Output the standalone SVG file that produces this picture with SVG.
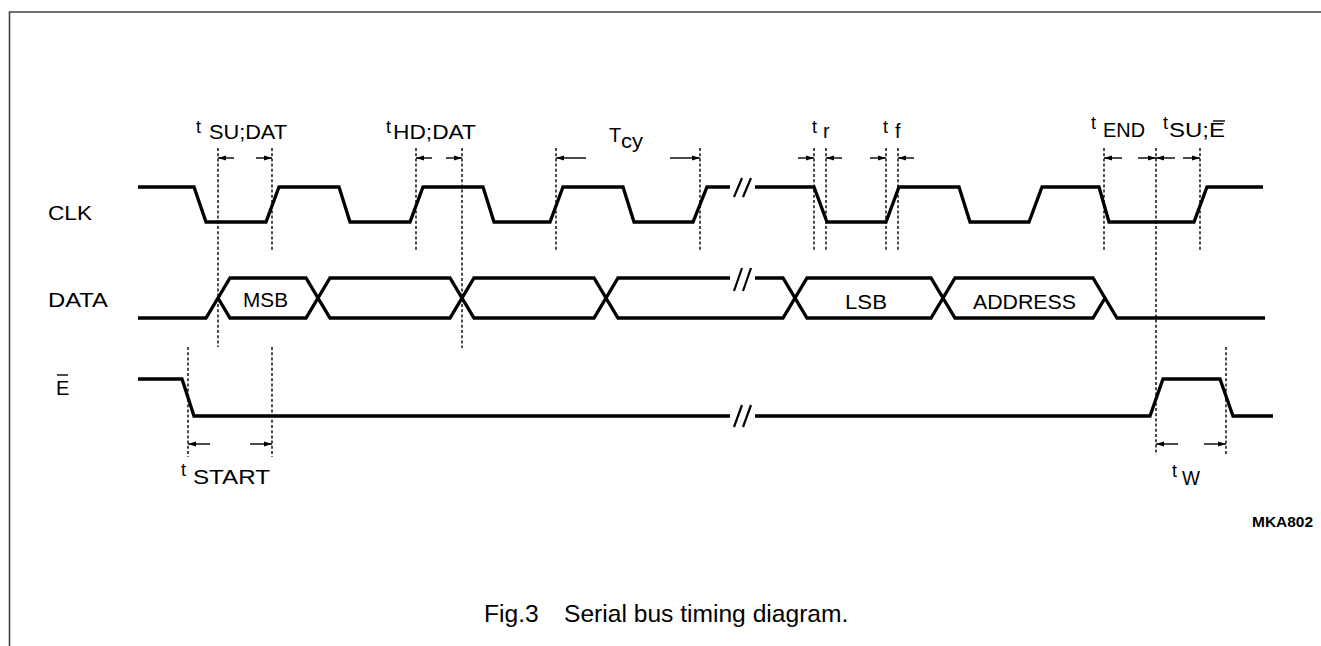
<svg xmlns="http://www.w3.org/2000/svg" width="1321" height="646" viewBox="0 0 1321 646">
<defs>
<marker id="ah" viewBox="0 0 8 6" refX="8" refY="3" markerWidth="8" markerHeight="6" markerUnits="userSpaceOnUse" orient="auto">
<path d="M0,0.5 L8,3 L0,5.5 z" fill="#000"/>
</marker>
<style>
.sig{fill:none;stroke:#000;stroke-width:3.3;stroke-linejoin:miter;stroke-linecap:butt}
.brk{fill:none;stroke:#000;stroke-width:2.2}
.dsh{fill:none;stroke:#000;stroke-width:1.4;stroke-dasharray:3 2.2}
.arr{fill:none;stroke:#000;stroke-width:1.4;marker-end:url(#ah)}
.frame{fill:none;stroke:#444;stroke-width:1.6}
text{font-family:"Liberation Sans",Arial,sans-serif;fill:#000}
.lbl{font-size:20px}
.t{font-size:18px}
.cap{font-size:24.6px}
.code{font-size:15px;font-weight:bold}
</style>
</defs>
<rect width="1321" height="646" fill="#fff"/>
<path class="frame" d="M9.5,646 V12 H1321"/>

<g id="connectors">
<g id="dashes">
<line class="dsh" x1="218" y1="148" x2="218" y2="347"/>
<line class="dsh" x1="272" y1="148" x2="272" y2="250"/>
<line class="dsh" x1="416" y1="148" x2="416" y2="250"/>
<line class="dsh" x1="462" y1="148" x2="462" y2="348"/>
<line class="dsh" x1="556" y1="148" x2="556" y2="250"/>
<line class="dsh" x1="700" y1="148" x2="700" y2="250"/>
<line class="dsh" x1="814" y1="148" x2="814" y2="250"/>
<line class="dsh" x1="826" y1="148" x2="826" y2="250"/>
<line class="dsh" x1="886" y1="148" x2="886" y2="250"/>
<line class="dsh" x1="898" y1="148" x2="898" y2="250"/>
<line class="dsh" x1="1104" y1="148" x2="1104" y2="250"/>
<line class="dsh" x1="1156" y1="148" x2="1156" y2="455"/>
<line class="dsh" x1="1200" y1="148" x2="1200" y2="250"/>
<line class="dsh" x1="188" y1="347" x2="188" y2="457"/>
<line class="dsh" x1="272" y1="347" x2="272" y2="457"/>
<line class="dsh" x1="1226" y1="347" x2="1226" y2="455"/>
</g>
<g id="arrows">
<line class="arr" x1="234" y1="158" x2="218" y2="158"/>
<line class="arr" x1="256" y1="158" x2="272" y2="158"/>
<line class="arr" x1="432" y1="158" x2="416" y2="158"/>
<line class="arr" x1="446" y1="158" x2="462" y2="158"/>
<line class="arr" x1="586" y1="158" x2="556" y2="158"/>
<line class="arr" x1="670" y1="158" x2="700" y2="158"/>
<line class="arr" x1="798" y1="158" x2="814" y2="158"/>
<line class="arr" x1="842" y1="158" x2="826" y2="158"/>
<line class="arr" x1="870" y1="158" x2="886" y2="158"/>
<line class="arr" x1="914" y1="158" x2="898" y2="158"/>
<line class="arr" x1="1122" y1="158" x2="1104" y2="158"/>
<line class="arr" x1="1138" y1="158" x2="1156" y2="158"/>
<line class="arr" x1="1175" y1="158" x2="1156" y2="158"/>
<line class="arr" x1="1183" y1="158" x2="1200" y2="158"/>
<line class="arr" x1="210" y1="444" x2="188" y2="444"/>
<line class="arr" x1="250" y1="444" x2="272" y2="444"/>
<line class="arr" x1="1178" y1="444" x2="1156" y2="444"/>
<line class="arr" x1="1204" y1="444" x2="1226" y2="444"/>
</g>
</g>

<g id="clk">
<path class="sig" d="M138,187 H194 L206,222 H266 L279,187 H339 L350,222 H410 L423,187 H483 L494,222 H550 L563,187 H623 L634,222 H693 L707,187 H730"/>
<path class="sig" d="M755,187 H814 L827,222 H886 L899,187 H959 L970,222 H1029 L1042,187 H1099 L1109,222 H1194 L1207,187 H1263"/>
<path class="brk" d="M734,197 L742,178 M743,197 L751,178"/>
<text class="lbl" x="48" y="220" textLength="44" lengthAdjust="spacingAndGlyphs">CLK</text>
</g>

<g id="data">
<path class="sig" d="M138,318 H206 L230,278 H306 L330,318 H450 L474,278 H594 L618,318 H783 L807,278 H931 L955,318 H1093 L1105,298"/>
<path class="sig" d="M218,298 L230,318 H306 L330,278 H450 L474,318 H594 L618,278 H730 M755,278 H783 L807,318 H931 L955,278 H1093 L1117,318 H1265"/>
<path class="brk" d="M734,291 L742,268 M743,291 L751,268"/>
<text class="lbl" x="48" y="307" textLength="60" lengthAdjust="spacingAndGlyphs">DATA</text>
<text class="lbl" x="243" y="307" textLength="45" lengthAdjust="spacingAndGlyphs">MSB</text>
<text class="lbl" x="845" y="309" textLength="42" lengthAdjust="spacingAndGlyphs">LSB</text>
<text class="lbl" x="973" y="309" textLength="103" lengthAdjust="spacingAndGlyphs">ADDRESS</text>
</g>

<g id="enable">
<path class="sig" d="M138,379 H182 L194,416 H730 M755,416 H1150 L1163,379 H1220 L1233,416 H1273"/>
<path class="brk" d="M734,427 L742,405 M743,427 L751,405"/>
<text class="lbl" x="56" y="395">E</text>
<line x1="57" y1="375" x2="68" y2="375" stroke="#000" stroke-width="1.4"/>
</g>

<g id="labels">
<g id="t-su-dat"><text class="t" x="196" y="133">t</text><text class="lbl" x="209" y="139" textLength="78" lengthAdjust="spacingAndGlyphs">SU;DAT</text></g>
<g id="t-hd-dat"><text class="t" x="386" y="133">t</text><text class="lbl" x="393" y="139" textLength="83" lengthAdjust="spacingAndGlyphs">HD;DAT</text></g>
<g id="t-cy"><text class="lbl" x="609" y="142">T</text><text class="lbl" x="621" y="148" textLength="22" lengthAdjust="spacingAndGlyphs">cy</text></g>
<g id="t-r"><text class="t" x="812" y="133">t</text><text class="lbl" x="823" y="138">r</text></g>
<g id="t-f"><text class="t" x="883" y="133">t</text><text class="lbl" x="895" y="138">f</text></g>
<g id="t-end"><text class="t" x="1091" y="129">t</text><text class="lbl" x="1103" y="137" textLength="42" lengthAdjust="spacingAndGlyphs">END</text></g>
<g id="t-su-e"><text class="t" x="1163" y="129">t</text><text class="lbl" x="1169" y="137" textLength="56" lengthAdjust="spacingAndGlyphs">SU;E</text><line x1="1213" y1="121" x2="1225" y2="121" stroke="#000" stroke-width="1.4"/></g>
<g id="t-start"><text class="t" x="181" y="476">t</text><text class="lbl" x="193" y="484" textLength="77" lengthAdjust="spacingAndGlyphs">START</text></g>
<g id="t-w"><text class="t" x="1172" y="477">t</text><text class="lbl" x="1182" y="485" textLength="18" lengthAdjust="spacingAndGlyphs">W</text></g>
<text class="code" x="1252" y="527" textLength="61" lengthAdjust="spacingAndGlyphs">MKA802</text>
<text class="cap" y="622"><tspan x="484">Fig.3</tspan><tspan x="564">Serial bus timing diagram.</tspan></text>
</g>
</svg>
